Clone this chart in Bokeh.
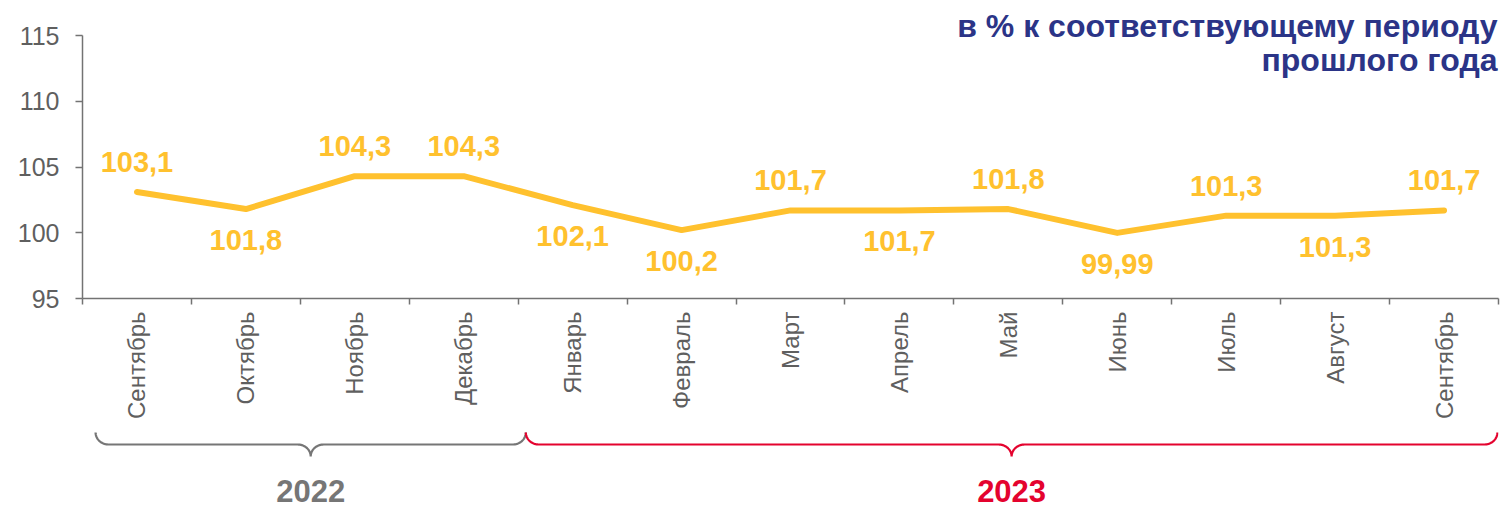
import math
import numpy as np
from bokeh.plotting import figure
from bokeh.models import FixedTicker, Range1d, Label, ColumnDataSource
from bokeh.layouts import column
from bokeh.core.properties import value
from bokeh.embed import file_html
from bokeh.resources import INLINE

# ---- data ----
months = ["Сентябрь", "Октябрь", "Ноябрь", "Декабрь", "Январь", "Февраль", "Март",
          "Апрель", "Май", "Июнь", "Июль", "Август", "Сентябрь"]
values = [103.1, 101.8, 104.3, 104.3, 102.1, 100.2, 101.7, 101.7, 101.8, 99.99, 101.3, 101.3, 101.7]
value_labels = ["103,1", "101,8", "104,3", "104,3", "102,1", "100,2", "101,7",
                "101,7", "101,8", "99,99", "101,3", "101,3", "101,7"]
label_side = ["above", "below", "above", "above", "below", "below", "above",
              "below", "above", "below", "above", "below", "above"]
y_ticks = [95, 100, 105, 110, 115]
years = ["2022", "2023"]
year_first = [0, 4]
year_last = [3, 12]
title_lines = ["в % к соответствующему периоду", "прошлого года"]

FONT = "Liberation Sans"
GRAY = "#737373"
TXT = "#5f5f5f"
YEL = "#FFC12E"
NAVY = "#2B3487"
RED = "#E4032E"
year_colors = ["#767676", RED]

W = 1506
LEFT, RIGHT = 82, 8
x_idx = list(range(len(months)))
px_per_val = 263 / 20.0          # 95..115 spans 263 px
y_top = 115 + 35 / px_per_val    # frame extends to the top of the page (room for the title)

p = figure(width=W, height=425, output_backend="svg", toolbar_location=None,
           x_range=Range1d(-0.5, len(months) - 0.5), y_range=Range1d(95, y_top),
           min_border_left=LEFT, min_border_right=RIGHT, min_border_top=0, min_border_bottom=127)
p.outline_line_color = None
p.grid.visible = False
p.background_fill_color = "white"

# y axis
p.yaxis.ticker = FixedTicker(ticks=y_ticks)
p.yaxis.bounds = (95, 115)
p.yaxis.major_tick_out = 7
p.yaxis.major_tick_in = 0
p.yaxis.minor_tick_out = 0
p.yaxis.minor_tick_in = 0
p.yaxis.axis_line_color = GRAY
p.yaxis.axis_line_width = 1.5
p.yaxis.major_tick_line_color = GRAY
p.yaxis.major_tick_line_width = 1.5
p.yaxis.major_label_text_font = FONT
p.yaxis.major_label_text_font_size = "25px"
p.yaxis.major_label_text_color = TXT
p.yaxis.major_label_standoff = 16

# x axis: labels at category centres, ticks between categories
p.xaxis.ticker = FixedTicker(ticks=x_idx, minor_ticks=[i - 0.5 for i in range(len(months) + 1)])
p.xaxis.major_label_overrides = {i: m for i, m in enumerate(months)}
p.xaxis.major_label_orientation = math.pi / 2
p.xaxis.major_tick_out = 0
p.xaxis.major_tick_in = 0
p.xaxis.minor_tick_out = 6
p.xaxis.minor_tick_in = 0
p.xaxis.minor_tick_line_color = GRAY
p.xaxis.minor_tick_line_width = 1.5
p.xaxis.axis_line_color = GRAY
p.xaxis.axis_line_width = 1.5
p.xaxis.major_label_text_font = FONT
p.xaxis.major_label_text_font_size = "24px"
p.xaxis.major_label_text_color = TXT
p.xaxis.major_label_standoff = 7

src = ColumnDataSource(dict(
    x=x_idx, y=values, t=value_labels,
    off=[-30 if s == "above" else 31 for s in label_side],
))
p.line("x", "y", source=src, line_color=YEL, line_width=6, line_cap="round", line_join="round")
p.text("x", "y", text="t", source=src, y_offset="off", text_align="center",
       text_baseline="middle", text_color=YEL, text_font=value(FONT),
       text_font_size="29px", text_font_style="bold")

# title (two right-aligned lines, top right)
for line_text, ty in zip(title_lines, [115.76, 113.1]):
    p.add_layout(Label(x=len(months) - 0.5, y=ty, x_offset=-1, text=line_text,
                       text_align="right", text_baseline="middle",
                       text_font=FONT, text_font_size="32px", text_font_style="bold",
                       text_color=NAVY))

# ---- braces + years ----
p2 = figure(width=W, height=83, output_backend="svg", toolbar_location=None,
            x_range=p.x_range, y_range=Range1d(83, 0),
            min_border_left=LEFT, min_border_right=RIGHT, min_border_top=0, min_border_bottom=0)
p2.axis.visible = False
p2.grid.visible = False
p2.outline_line_color = None

px_per_unit = (W - LEFT - RIGHT) / len(months)
r = 13 / px_per_unit
y0, y1, y2 = 7, 19, 31
h = y1 - y0
t = np.linspace(0, np.pi / 2, 20)


def brace(xa, xb):
    xm = (xa + xb) / 2
    xs, ys = [], []
    xs += list(xa + r * (1 - np.cos(t))); ys += list(y0 + h * np.sin(t))
    xs += list(xm - r + r * np.sin(t)); ys += list(y1 + h * (1 - np.cos(t)))
    xs += list(xm + r - r * np.sin(t[::-1])); ys += list(y1 + h * (1 - np.cos(t[::-1])))
    xs += list(xb - r * (1 - np.cos(t[::-1]))); ys += list(y0 + h * np.sin(t[::-1]))
    return xs, ys, xm


for yr, f, l, c in zip(years, year_first, year_last, year_colors):
    xa = f - 0.38 if f == 0 else f - 0.43
    xb = min(l + 0.57, len(months) - 0.51)
    xs, ys, xm = brace(xa, xb)
    p2.line(xs, ys, line_color=c, line_width=2.2)
    p2.text([xm], [65], text=[yr], text_align="center", text_baseline="middle",
            text_color=c, text_font=value(FONT), text_font_size="31px", text_font_style="bold")

layout = column(p, p2, spacing=0)
open("out.html", "w").write(file_html(layout, INLINE))
